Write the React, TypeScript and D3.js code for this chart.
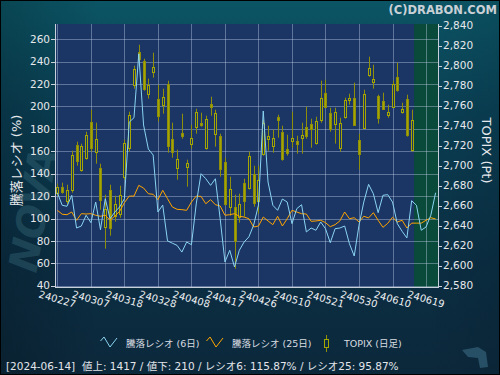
import React from 'react';
import * as d3 from 'd3';

// Trading days (index order); last 5 are future slots
const dates = [
  '240227','240228','240229','240301','240304','240305','240306','240307','240308','240311',
  '240312','240313','240314','240315','240318','240319','240321','240322','240325','240326',
  '240327','240328','240329','240401','240402','240403','240404','240405','240408','240409',
  '240410','240411','240412','240415','240416','240417','240418','240419','240422','240423',
  '240424','240425','240426','240430','240501','240502','240507','240508','240509','240510',
  '240513','240514','240515','240516','240517','240520','240521','240522','240523','240524',
  '240527','240528','240529','240530','240531','240603','240604','240605','240606','240607',
  '240610','240611','240612','240613','240614','240617','240618','240619','240620','240621',
];
const lastDataIndex = 74;
const tickStep = 7;

const topixOpen = [2673,2679,2665,2676,2721,2696,2708,2744,2714,2698,2639,2676,2650,2652,2689,2718,2781,2814,2805,2772,2794,2767,2761,2782,2727,2698,2733,2699,2722,2739,2743,2718,2762,2732,2730,2704,2659,2659,2649,2683,2678,2692,2665,2712,2727,2720,2749,2734,2717,2725,2725,2728,2739,2742,2723,2746,2773,2753,2742,2718,2749,2766,2768,2726,2738,2791,2784,2770,2765,2751,2759,2789,2754,2767,2716];
const topixHigh = [2682,2683,2681,2715,2724,2722,2734,2756,2743,2702,2671,2681,2670,2680,2726,2754,2800,2821,2807,2787,2813,2781,2777,2785,2743,2716,2752,2706,2741,2757,2753,2750,2769,2756,2732,2708,2689,2671,2672,2687,2714,2700,2700,2746,2740,2736,2751,2740,2731,2754,2730,2743,2759,2747,2749,2785,2786,2758,2758,2748,2768,2772,2783,2732,2776,2809,2801,2771,2773,2761,2785,2803,2763,2771,2756];
const topixLow = [2670,2672,2661,2673,2700,2694,2706,2714,2702,2656,2617,2630,2644,2648,2686,2714,2777,2804,2775,2767,2788,2744,2752,2713,2708,2686,2727,2679,2717,2732,2739,2716,2750,2719,2689,2660,2650,2597,2643,2649,2676,2659,2652,2710,2715,2713,2728,2705,2710,2718,2712,2712,2727,2718,2721,2743,2758,2734,2722,2714,2747,2761,2740,2696,2737,2789,2777,2742,2756,2748,2758,2774,2752,2729,2714];
const topixClose = [2679,2674,2676,2711,2705,2720,2731,2718,2727,2666,2657,2638,2662,2671,2723,2751,2797,2807,2777,2781,2799,2750,2769,2720,2714,2707,2730,2703,2728,2754,2741,2747,2759,2753,2697,2662,2677,2625,2662,2665,2710,2663,2686,2743,2730,2728,2746,2707,2713,2728,2722,2731,2730,2737,2745,2768,2759,2737,2754,2743,2766,2768,2741,2712,2772,2798,2787,2748,2757,2754,2782,2776,2757,2731,2746];

const ratio6 = [123,111.8,110.9,120.7,91.5,93.3,102.9,96.3,114.7,90,117.7,99.8,105.8,110.3,117.7,186,190,247,183.5,162,156.7,105.8,112,80,78,76,70,79,76.6,113,140,135.5,129.6,135.5,99.8,61.2,71.6,56.7,71.6,79,83.6,94.2,112,196,132.6,111.8,107.3,117.4,114.7,95.4,108.8,112.3,88,91.5,89.5,96.9,90.9,78.4,90.9,91.5,93.3,77.5,66.5,94,114.7,130.5,122.1,105.2,120.7,121.3,114.7,95.4,88.6,82.6,115.87,111.8,89.5,92.4,102.9,123];
const ratio25 = [107.3,103.8,103.4,105.8,98.4,104.3,104,104.3,102.9,102,102.9,98.4,102.2,106.4,114.1,120,120,129.6,127.2,122.1,121.6,116.8,125.2,117.7,110.3,108.2,107.9,107.3,114.7,120,119.7,113.2,116.8,112.3,111.2,102.9,103.4,104.3,102,101.3,99.8,92.4,93.3,101.3,97.8,94.5,102,93.3,99.8,107.3,105.8,104.3,104,97.5,97.8,98.4,96.3,92.7,94.5,97.8,105.8,99.8,100.7,96.9,102,100.5,105.2,98.4,92.1,95.7,101.1,96.9,98.4,91.5,95.87,95.87,95.87,98.4,100.7,99.6];

const leftTicks = [40,60,80,100,120,140,160,180,200,220,240,260];
const rightTicks = [2580,2600,2620,2640,2660,2680,2700,2720,2740,2760,2780,2800,2820,2840];

const legendLabels = ['騰落レシオ (6日)', '騰落レシオ (25日)', 'TOPIX (日足)'];
const footerText = '[2024-06-14]  値上: 1417 / 値下: 210 / レシオ6: 115.87% / レシオ25: 95.87%';

const W = 500, H = 375;
const L = 55, R = 438, T = 24, B = 287;
const FONT = "'DejaVu Sans', 'Noto Sans CJK JP', sans-serif";
const CANDLE = '#a6a600';
const CANDLE_EDGE = '#8e8e0a';
const PLOT_BG = '#1b3565';
const BLUE = '#8ad4f2';
const ORANGE = '#ffa500';

export default function App() {
  const x = d3.scaleLinear().domain([-0.5, dates.length - 0.5]).range([L, R]);
  const yL = d3.scaleLinear().domain([38.84, 273.66]).range([B, T]);
  const yR = d3.scaleLinear().domain([2578.7, 2841.7]).range([B, T]);

  const line = d3.line<number>().x((_, i) => x(i)).y(d => yL(d));
  const tickIdx = d3.range(0, dates.length, tickStep);
  const fmt = d3.format(',');

  const gridColor = 'rgba(190,205,230,0.42)';

  return (
    <svg width={W} height={H} style={{ position: 'absolute', left: 0, top: 0 }} fontFamily={FONT}>
      <defs>
        <linearGradient id="bgGrad" x1="0" y1="0" x2="0" y2="1">
          <stop offset="0" stopColor="#0b5565" />
          <stop offset="0.3" stopColor="#0a3f54" />
          <stop offset="0.7" stopColor="#0b2e43" />
          <stop offset="1" stopColor="#0c283b" />
        </linearGradient>
        <linearGradient id="bgGradH" x1="0" y1="0" x2="1" y2="0">
          <stop offset="0" stopColor="#000" stopOpacity="0.18" />
          <stop offset="0.2" stopColor="#000" stopOpacity="0" />
          <stop offset="0.85" stopColor="#000" stopOpacity="0" />
          <stop offset="1" stopColor="#000" stopOpacity="0.08" />
        </linearGradient>
        <clipPath id="plotClip">
          <rect x={L} y={T} width={R - L} height={B - T} />
        </clipPath>
      </defs>
      <rect x={0} y={0} width={W} height={H} fill="url(#bgGrad)" />
      <rect x={0} y={0} width={W} height={H} fill="url(#bgGradH)" />

      {/* watermark */}
      <text transform="translate(47,212) rotate(-80)" fontSize={40} fontWeight="bold" fontStyle="italic"
        fill="#3e7484" opacity={0.35} textAnchor="middle" fontFamily="'DejaVu Sans'">NOVA</text>
      <path d="M462,350 L478,347 L486,352 L488,367 L480,368 L478,358 L468,357 Z" fill="#2e5a70" opacity={0.8} />

      {/* copyright */}
      <text x={497} y={14} textAnchor="end" fontSize={11.5} fontWeight="bold" fill="#c9d0d6">(C)DRABON.COM</text>

      {/* plot backgrounds */}
      <rect x={L} y={T} width={R - L} height={B - T} fill={PLOT_BG} />
      <rect x={x(lastDataIndex + 0.5)} y={T} width={R - x(lastDataIndex + 0.5)} height={B - T} fill="#0a4a3b" />

      {/* grid */}
      <g stroke={gridColor} strokeWidth={1}>
        {leftTicks.map(t => (
          <line key={'h' + t} x1={L} x2={R} y1={Math.round(yL(t)) + 0.5} y2={Math.round(yL(t)) + 0.5} />
        ))}
        {tickIdx.map(i => (
          <line key={'v' + i} x1={Math.round(x(i)) + 0.5} x2={Math.round(x(i)) + 0.5} y1={T} y2={B} />
        ))}
      </g>

      {/* candles */}
      <g clipPath="url(#plotClip)">
        {topixClose.map((c, i) => {
          const o = topixOpen[i];
          const cx = Math.round(x(i));
          const up = c >= o;
          const top = Math.round(yR(Math.max(o, c)));
          const bot = Math.round(yR(Math.min(o, c)));
          const h = Math.max(1, bot - top);
          return (
            <g key={'c' + i}>
              <line x1={cx + 0.5} x2={cx + 0.5} y1={yR(topixHigh[i])} y2={yR(topixLow[i])} stroke={CANDLE_EDGE} strokeWidth={1} />
              <rect x={cx - 0.5} y={top + 0.5} width={2} height={h} fill={up ? PLOT_BG : CANDLE} stroke={up ? CANDLE : CANDLE_EDGE} strokeWidth={1} />
            </g>
          );
        })}
        <path d={line(ratio25) || ''} fill="none" stroke={ORANGE} strokeWidth={1} />
        <path d={line(ratio6) || ''} fill="none" stroke={BLUE} strokeWidth={1} />
      </g>

      {/* axes lines */}
      <g stroke="#c8d0dc" strokeWidth={1}>
        <line x1={L + 0.5} x2={L + 0.5} y1={T} y2={B + 0.5} />
        <line x1={R + 0.5} x2={R + 0.5} y1={T} y2={B + 0.5} />
        <line x1={L} x2={R + 1} y1={B + 0.5} y2={B + 0.5} />
        {leftTicks.map(t => (
          <line key={'lt' + t} x1={L - 4} x2={L} y1={Math.round(yL(t)) + 0.5} y2={Math.round(yL(t)) + 0.5} />
        ))}
        {rightTicks.map(t => (
          <line key={'rt' + t} x1={R} x2={R + 4} y1={Math.round(yR(t)) + 0.5} y2={Math.round(yR(t)) + 0.5} />
        ))}
      </g>

      {/* tick labels */}
      <g fontSize={10.5} fill="#e6e8ec">
        {leftTicks.map(t => (
          <text key={'ll' + t} x={L - 5} y={yL(t)} dy="0.36em" textAnchor="end">{t}</text>
        ))}
        {rightTicks.map(t => (
          <text key={'rl' + t} x={R + 5} y={yR(t)} dy="0.36em" textAnchor="start">{fmt(t)}</text>
        ))}
      </g>

      {/* x labels */}
      <g fontSize={10} fill="#eef0f3">
        {tickIdx.map(i => (
          <text key={'xl' + i} transform={`translate(${x(i)},299) rotate(16)`} dy="0.36em" textAnchor="middle">{dates[i]}</text>
        ))}
      </g>

      {/* axis titles */}
      <text transform={`translate(21,${(T + B) / 2 + 5}) rotate(-90)`} textAnchor="middle" fontSize={13} fill="#e6e8ec">騰落レシオ (%)</text>
      <text transform={`translate(482,${(T + B) / 2 - 5}) rotate(90)`} textAnchor="middle" fontSize={13} fill="#e6e8ec">TOPIX (Pt)</text>

      {/* legend */}
      <g fontSize={9.5} fill="#d8dce2">
        <path d="M100.5,341 L104,337 L110,347 L117,338" fill="none" stroke={BLUE} strokeWidth={1} />
        <text x={126} y={347}>{legendLabels[0]}</text>
        <path d="M206.5,341 L210,337 L216,347 L223,338" fill="none" stroke={ORANGE} strokeWidth={1} />
        <text x={232} y={347}>{legendLabels[1]}</text>
        <line x1={326.5} x2={326.5} y1={335} y2={352} stroke={CANDLE_EDGE} />
        <rect x={324.5} y={339.5} width={4} height={8} fill="#0c2c3f" stroke={CANDLE} />
        <text x={344} y={347}>{legendLabels[2]}</text>
      </g>

      {/* footer */}
      <text x={6} y={370} fontSize={10.5} fill="#e2e5ea" xmlSpace="preserve">{footerText}</text>

      <rect x={0.5} y={0.5} width={W - 1} height={H - 1} fill="none" stroke="#000" strokeWidth={1} />
    </svg>
  );
}
